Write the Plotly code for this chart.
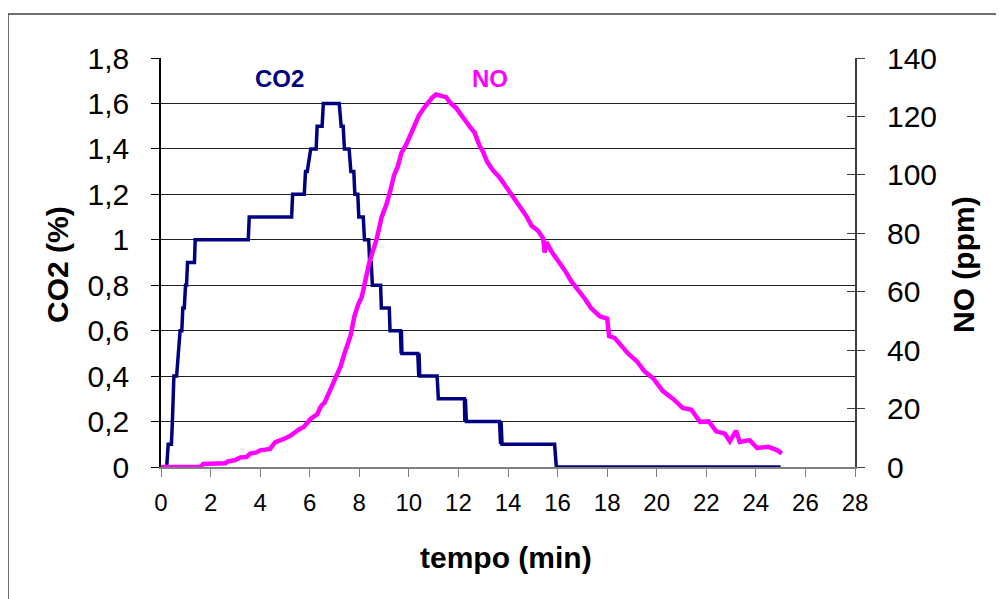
import plotly.graph_objects as go

# CO2 (%) corner points of the step trace
co2_t = [0, 0.23, 0.29, 0.42, 0.46, 0.49, 0.52, 0.63, 0.70, 0.77, 0.84, 0.88, 0.94, 0.99, 1.03, 1.07,
         1.35, 1.38, 3.52, 3.56, 5.27, 5.31, 5.78, 5.83, 5.90, 6.04, 6.26, 6.30, 6.50, 6.55, 7.19,
         7.27, 7.35, 7.40, 7.59, 7.66, 7.78, 7.82, 7.94, 7.98, 8.16, 8.21, 8.38, 8.42, 8.48, 8.53,
         8.86, 8.89, 9.21, 9.24, 9.66, 9.69, 9.70, 9.72, 10.36, 10.40, 10.41, 10.44, 11.14, 11.19,
         12.24, 12.26, 12.28, 12.32, 13.66, 13.70, 13.72, 13.76, 15.88, 15.95, 25.0]
co2_v = [0, 0, 0.1, 0.1, 0.2, 0.3, 0.4, 0.4, 0.5, 0.6, 0.6, 0.7, 0.7, 0.8, 0.8, 0.9,
         0.9, 1.0, 1.0, 1.1, 1.1, 1.2, 1.2, 1.3, 1.3, 1.4, 1.4, 1.5, 1.5, 1.6, 1.6,
         1.5, 1.5, 1.4, 1.4, 1.3, 1.3, 1.2, 1.2, 1.1, 1.1, 1.0, 1.0, 0.9, 0.9, 0.8,
         0.8, 0.7, 0.7, 0.6, 0.6, 0.5, 0.6, 0.5, 0.5, 0.4, 0.5, 0.4, 0.4, 0.3,
         0.3, 0.2, 0.3, 0.2, 0.2, 0.1, 0.2, 0.1, 0.1, 0, 0]

# NO (ppm)
no_t = [0, 1.6, 1.7, 2.0, 2.3, 2.6, 2.7, 3.0, 3.2, 3.45, 3.6, 3.85, 4.0, 4.15, 4.4, 4.6, 4.75, 4.95,
        5.2, 5.35, 5.6, 5.75, 5.95, 6.05, 6.3, 6.45, 6.6, 6.8, 6.95, 7.15, 7.25, 7.4, 7.55, 7.65,
        7.8, 7.95, 8.1, 8.25, 8.4, 8.55, 8.7, 8.9, 9.1, 9.25, 9.4, 9.55, 9.7, 9.9, 10.1, 10.25,
        10.4, 10.6, 10.8, 10.95, 11.1, 11.3, 11.5, 11.7, 11.9, 12.0, 12.2, 12.45, 12.65, 12.85,
        13.0, 13.15, 13.4, 13.65, 13.95, 14.2, 14.5, 14.75, 14.95, 15.2, 15.42, 15.48, 15.55,
        15.75, 16.0, 16.3, 16.55, 16.85, 17.1, 17.35, 17.7, 18.0, 18.08, 18.3, 18.6, 18.85, 19.2,
        19.5, 19.85, 20.25, 20.65, 21.05, 21.4, 21.75, 22.1, 22.4, 22.75, 22.95, 23.2, 23.35,
        23.75, 24.05, 24.5, 24.85, 25.05]
no_v = [0, 0, 1.0, 1.2, 1.4, 1.3, 1.9, 2.4, 3.3, 3.4, 4.6, 5.0, 5.7, 6.0, 6.2, 8.4, 8.8, 9.6,
        10.6, 11.6, 13.0, 13.6, 16.0, 16.6, 18.0, 20.8, 22.0, 25.6, 28.5, 32.0, 34.5, 38.8, 42.3, 45.0,
        51.5, 55.5, 58.2, 64.4, 69.8, 74.0, 78.0, 85.5, 90.0, 94.5, 99.8, 102.8, 107.5, 110.5, 114.6, 117.4,
        120.2, 122.8, 125.2, 126.5, 127.5, 127.0, 126.6, 124.4, 123.0, 121.8, 119.2, 116.6, 114.5, 110.0,
        107.8, 104.6, 101.5, 99.2, 95.6, 92.2, 88.8, 85.8, 82.6, 81.0, 78.2, 73.4, 77.0,
        73.8, 71.0, 67.2, 63.6, 60.5, 57.6, 54.4, 51.6, 50.8, 44.8, 44.2, 41.0, 38.8, 36.2,
        32.8, 30.4, 26.0, 23.4, 20.2, 19.6, 15.4, 15.6, 12.2, 11.4, 8.8, 12.4, 8.6,
        9.2, 6.5, 6.9, 5.8, 4.7]

font = "Liberation Sans, Arial, sans-serif"

fig = go.Figure()
fig.add_trace(go.Scatter(x=co2_t, y=co2_v, mode="lines", name="CO2",
                         line=dict(color="#000080", width=3.5), yaxis="y"))
fig.add_trace(go.Scatter(x=no_t, y=no_v, mode="lines", name="NO",
                         line=dict(color="#FF00FF", width=4.5), yaxis="y2"))
# empty trace so the inner tick axis on the right gets drawn
fig.add_trace(go.Scatter(x=[0], y=[0], mode="markers", marker=dict(opacity=0),
                         hoverinfo="skip", showlegend=False, yaxis="y3"))

# the page body adds an 8px offset, so margins are shifted to compensate
fig.update_layout(
    width=1004, height=599,
    margin=dict(l=153, r=157, t=50, b=140),
    paper_bgcolor="white", plot_bgcolor="white",
    separators=",.",
    showlegend=False,
    font=dict(family=font, color="black"),
    xaxis=dict(range=[0, 28], dtick=2, ticks="outside", ticklen=8, tickcolor="#808080",
               showline=True, linecolor="#808080", linewidth=1.5, showgrid=False, zeroline=False,
               tickfont=dict(size=24), ticklabelstandoff=5),
    yaxis=dict(range=[0, 1.8], dtick=0.2, ticks="outside", ticklen=8, tickcolor="#000",
               showline=True, linecolor="#000", linewidth=1.5, showgrid=True,
               gridcolor="#202020", gridwidth=1, zeroline=False,
               tickfont=dict(size=30), ticklabelstandoff=16),
    yaxis2=dict(range=[0, 140], dtick=20, overlaying="y", side="right", ticks="outside",
                ticklen=8, tickcolor="#404040", showline=True, linecolor="#404040", linewidth=2,
                showgrid=False, zeroline=False, tickfont=dict(size=30), ticklabelstandoff=16),
    yaxis3=dict(range=[0, 140], dtick=20, overlaying="y", side="right", ticks="inside",
                ticklen=8, tickcolor="#404040", showline=False, showgrid=False, zeroline=False,
                showticklabels=False),
)

# axis titles and series labels
fig.add_annotation(text="<b>CO2 (%)</b>", xref="paper", yref="paper", x=(57 - 161) / 694,
                   y=(467 - 265) / 409, textangle=-90, showarrow=False, font=dict(size=30),
                   xanchor="center", yanchor="middle")
fig.add_annotation(text="<b>NO (ppm)</b>", xref="paper", yref="paper", x=(963 - 161) / 694,
                   y=(467 - 265) / 409, textangle=-90, showarrow=False, font=dict(size=30),
                   xanchor="center", yanchor="middle")
fig.add_annotation(text="<b>tempo (min)</b>", xref="paper", yref="paper", x=(506 - 161) / 694,
                   y=(467 - 557) / 409, showarrow=False, font=dict(size=30),
                   xanchor="center", yanchor="middle")
fig.add_annotation(text="<b>CO2</b>", x=4.78, y=1.708, showarrow=False,
                   font=dict(size=24, color="#000080"))
fig.add_annotation(text="<b>NO</b>", x=13.29, y=1.708, showarrow=False,
                   font=dict(size=24, color="#FF00FF"))

# outer chart frame
fig.add_shape(type="rect", xref="paper", yref="paper",
              x0=(8 - 161) / 694, x1=(1100 - 161) / 694,
              y0=(467 - 700) / 409, y1=(467 - 14) / 409,
              line=dict(color="#404040", width=1.5))

fig.write_html("out.html")
